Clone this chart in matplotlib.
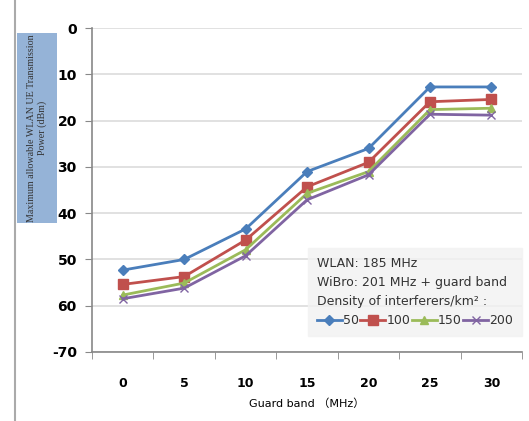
import matplotlib as mpl
mpl.use("Agg")
import matplotlib.pyplot as plt
from matplotlib.patches import Rectangle
from matplotlib.lines import Line2D

guard = ["0", "5", "10", "15", "20", "25", "30"]
d50 = [-52.3, -50.0, -43.4, -31.0, -26.0, -12.7, -12.7]
d100 = [-55.4, -53.7, -45.8, -34.3, -29.0, -15.9, -15.4]
d150 = [-57.7, -55.1, -47.9, -35.7, -31.0, -17.6, -17.3]
d200 = [-58.5, -56.2, -49.2, -37.1, -31.7, -18.6, -18.8]
yticks = [0, -10, -20, -30, -40, -50, -60, -70]
ylabels = ["0", "10", "20", "30", "40", "50", "60", "-70"]

fig = plt.figure(figsize=(5.29, 4.21), dpi=100)
ax = fig.add_axes([0.174, 0.164, 0.813, 0.769])

x = range(len(guard))
ax.plot(x, d50, color="#4a7ebb", marker="D", markersize=5, linewidth=2, label="50")
ax.plot(x, d100, color="#c0504d", marker="s", markersize=7, linewidth=2, label="100")
ax.plot(x, d150, color="#9bbb59", marker="^", markersize=6, linewidth=2, label="150")
ax.plot(x, d200, color="#8064a2", marker="x", markersize=6, linewidth=2, label="200")

ax.set_xlim(-0.5, 6.5)
ax.set_ylim(-70, 0)
ax.set_xticks(list(x))
ax.set_xticklabels(guard, fontsize=9, fontweight="bold")
ax.set_xticks([i - 0.5 for i in range(8)], minor=True)
ax.tick_params(axis="x", which="major", length=0, pad=18)
ax.tick_params(axis="x", which="minor", length=5, color="#888888")
ax.set_yticks(yticks)
ax.set_yticklabels(ylabels, fontsize=10, fontweight="bold")
ax.tick_params(axis="y", length=5, color="#888888", pad=6)
ax.grid(axis="y", color="#dcdcdc", linewidth=1.2)
ax.set_axisbelow(True)
for s in ["top", "right"]:
    ax.spines[s].set_visible(False)
for s in ["left", "bottom"]:
    ax.spines[s].set_color("#888888")
    ax.spines[s].set_linewidth(1.2)

ax.set_xlabel("Guard band （MHz）", fontsize=8, family=["DejaVu Sans", "Noto Sans CJK SC"], labelpad=6)

leg = ax.legend(ncol=4, loc="lower right", bbox_to_anchor=(1.0, 0.05), borderaxespad=0,
                title="WLAN: 185 MHz\nWiBro: 201 MHz + guard band\nDensity of interferers/km² :",
                fontsize=9, title_fontsize=9, alignment="left", frameon=True,
                handlelength=2.0, handletextpad=0.1, columnspacing=0.1,
                borderpad=0.7, fancybox=False)
leg.get_frame().set_facecolor("#f2f2f2")
leg.get_frame().set_edgecolor("#f2f2f2")
for t in leg.get_texts():
    t.set_color("#333333")
leg.get_title().set_color("#333333")
leg.get_title().set_linespacing(1.6)

# y-label box
fig.patches.append(Rectangle((17 / 529, 1 - 223 / 421), 40 / 529, 190 / 421,
                             transform=fig.transFigure, facecolor="#95b3d7",
                             edgecolor="none"))
fig.text(37 / 529, 1 - 128 / 421, "Maximum allowable WLAN UE Transmission\nPower (dBm)",
         rotation=90, ha="center", va="center", fontsize=7.2, family="Liberation Serif",
         color="#333333", linespacing=1.25)
fig.lines.append(Line2D([15 / 529, 15 / 529], [0, 1], transform=fig.transFigure,
                        color="#aaaaaa", linewidth=1.5))

fig.savefig("out.png", dpi=100)
